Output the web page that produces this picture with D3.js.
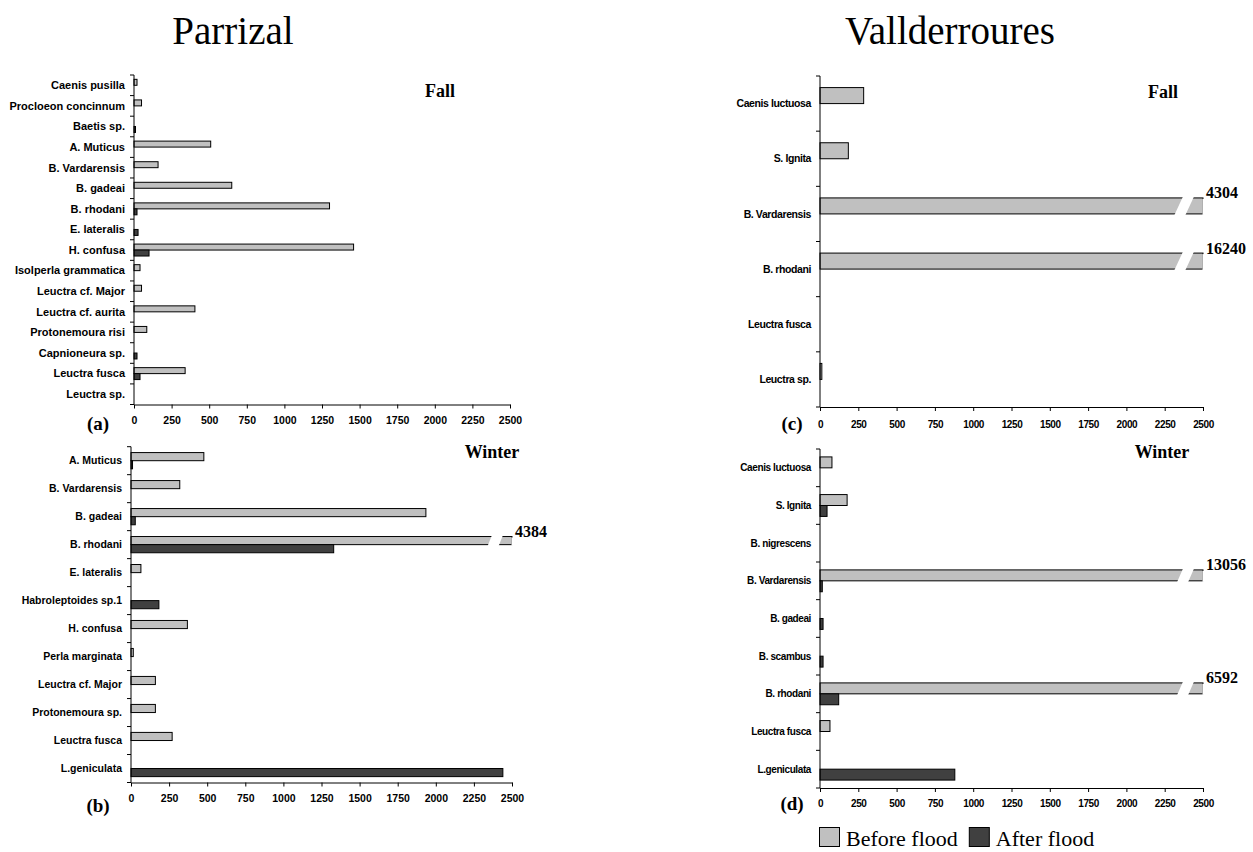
<!DOCTYPE html>
<html><head><meta charset="utf-8">
<script src="https://cdn.jsdelivr.net/npm/d3@7"></script>
<style>body{margin:0;background:#fff} svg{display:block}</style>
</head><body><svg id="c" width="1253" height="852"></svg>
<script>
// ---- data ----
const xTicks = [0, 250, 500, 750, 1000, 1250, 1500, 1750, 2000, 2250, 2500];
const seriesNames = ["Before flood", "After flood"];
const siteTitles = ["Parrizal", "Vallderroures"];
const seasonNames = ["Fall", "Winter"];
const panelLetters = ["(a)", "(b)", "(c)", "(d)"];

const aCategories = ["Caenis pusilla", "Procloeon concinnum", "Baetis sp.", "A. Muticus", "B. Vardarensis", "B. gadeai", "B. rhodani", "E. lateralis", "H. confusa", "Isolperla grammatica", "Leuctra cf. Major", "Leuctra cf. aurita", "Protonemoura risi", "Capnioneura sp.", "Leuctra fusca", "Leuctra sp."];
const aBefore = [20, 50, 0, 510, 160, 650, 1300, 0, 1460, 40, 50, 405, 85, 0, 340, 0];
const aAfter  = [0, 0, 10, 0, 0, 0, 20, 27, 100, 0, 0, 0, 0, 20, 40, 0];

const bCategories = ["A. Muticus", "B. Vardarensis", "B. gadeai", "B. rhodani", "E. lateralis", "Habroleptoides sp.1", "H. confusa", "Perla marginata", "Leuctra cf. Major", "Protonemoura sp.", "Leuctra fusca", "L.geniculata"];
const bBefore = [478, 320, 1935, 4384, 65, 0, 370, 15, 160, 160, 270, 0];
const bAfter  = [10, 0, 28, 1330, 0, 183, 0, 0, 0, 0, 0, 2440];

const cCategories = ["Caenis luctuosa", "S. Ignita", "B. Vardarensis", "B. rhodani", "Leuctra fusca", "Leuctra sp."];
const cBefore = [285, 185, 4304, 16240, 0, 12];
const cAfter  = [0, 0, 0, 0, 0, 0];

const dCategories = ["Caenis luctuosa", "S. Ignita", "B. nigrescens", "B. Vardarensis", "B. gadeai", "B. scambus", "B. rhodani", "Leuctra fusca", "L.geniculata"];
const dBefore = [78, 177, 0, 13056, 0, 0, 6592, 65, 0];
const dAfter  = [0, 46, 0, 15, 20, 20, 122, 0, 880];

// ---- styles / layout ----
const LIGHT = "#c0c0c0", DARK = "#404040";
const SERIF = "'Liberation Serif','Times New Roman',serif";
const SANS = "'Liberation Sans',Arial,sans-serif";
const svg = d3.select("#c");

const panels = [
  {cats: aCategories, before: aBefore, after: aAfter, letter: panelLetters[0], season: seasonNames[0],
   x0: 134, x1: 510, y0: 75, y1: 404.5, seasonX: 440, seasonY: 97, letterX: 98, letterY: 430, labFs: 11, tickFs: 10.5, tickDy: 16},
  {cats: bCategories, before: bBefore, after: bAfter, letter: panelLetters[1], season: seasonNames[1],
   x0: 131, x1: 512, y0: 446.7, y1: 782.5, seasonX: 492, seasonY: 458, letterX: 98, letterY: 812, labFs: 10.5, tickFs: 10.5, tickDy: 16},
  {cats: cCategories, before: cBefore, after: cAfter, letter: panelLetters[2], season: seasonNames[0],
   x0: 820, x1: 1203, y0: 76, y1: 407, seasonX: 1163, seasonY: 98, letterX: 792, letterY: 430, labFs: 10.5, tickFs: 10, tickDy: 17.5, condensed: true},
  {cats: dCategories, before: dBefore, after: dAfter, letter: panelLetters[3], season: seasonNames[1],
   x0: 820, x1: 1203, y0: 449, y1: 788, seasonX: 1162, seasonY: 458, letterX: 792, letterY: 810, labFs: 10, tickFs: 10, tickDy: 15, condensed: true}
];

// titles
svg.append("text").attr("x", 233).attr("y", 44).attr("text-anchor", "middle")
  .style("font-family", SERIF).style("font-size", "39px").text(siteTitles[0]);
svg.append("text").attr("x", 950).attr("y", 44).attr("text-anchor", "middle")
  .style("font-family", SERIF).style("font-size", "39px").text(siteTitles[1]);

function drawPanel(p) {
  const g = svg.append("g");
  const x = d3.scaleLinear().domain([0, 2500]).range([p.x0, p.x1]).clamp(true);
  const y = d3.scaleBand().domain(p.cats).range([p.y0, p.y1]);
  const bh = y.bandwidth() * 0.29;

  const rows = p.cats.map((c, i) => ({c, before: p.before[i], after: p.after[i]}));

  g.selectAll(".bb").data(rows.filter(d => d.before > 0)).join("rect")
    .attr("x", p.x0).attr("y", d => y(d.c) + y.bandwidth() / 2 - bh)
    .attr("width", d => x(d.before) - p.x0).attr("height", bh)
    .attr("fill", LIGHT).attr("stroke", "#000").attr("stroke-width", 1);
  g.selectAll(".ab").data(rows.filter(d => d.after > 0)).join("rect")
    .attr("x", p.x0).attr("y", d => y(d.c) + y.bandwidth() / 2)
    .attr("width", d => x(d.after) - p.x0).attr("height", bh)
    .attr("fill", DARK).attr("stroke", "#000").attr("stroke-width", 1);

  // broken bars (values beyond the axis)
  rows.filter(d => d.before > 2500).forEach(d => {
    const top = y(d.c) + y.bandwidth() / 2 - bh, bot = top + bh;
    const xe = x(2500), s = bh * 0.55;
    g.append("polygon")
      .attr("points", [[xe - 20, top - 1.5], [xe - 9, top - 1.5], [xe - 9 - s, bot + 1.5], [xe - 20 - s, bot + 1.5]].map(q => q.join(",")).join(" "))
      .attr("fill", "#fff");
    g.append("rect").attr("x", xe - 0.5).attr("y", top + 1).attr("width", 3).attr("height", bh).attr("fill", "#fff");
    g.append("text").attr("x", xe + 3).attr("y", top + 0.5)
      .style("font-family", SERIF).style("font-weight", "bold").style("font-size", "16px")
      .text(d3.format("d")(d.before));
  });

  // y axis
  g.append("line").attr("x1", p.x0).attr("x2", p.x0).attr("y1", p.y0).attr("y2", p.y1).attr("stroke", "#000");
  const bounds = p.cats.map(c => y(c)).concat([p.y1]);
  g.selectAll(".yt").data(bounds).join("line")
    .attr("x1", p.x0 - 4).attr("x2", p.x0).attr("y1", d => d).attr("y2", d => d).attr("stroke", "#000");
  g.selectAll(".yl").data(p.cats).join("text")
    .attr("x", p.x0 - 9).attr("y", d => y(d) + y.bandwidth() / 2).attr("dy", "0.35em").attr("text-anchor", "end")
    .style("font-family", SANS).style("font-weight", "bold").style("font-size", p.labFs + "px")
    .style("letter-spacing", p.condensed ? "-0.4px" : "0px")
    .text(d => d);

  // x axis
  const xa = g.append("g").attr("transform", `translate(0,${p.y1})`)
    .call(d3.axisBottom(x).tickValues(xTicks).tickSize(4).tickSizeOuter(0).tickFormat(d3.format("d")));
  xa.select(".domain").attr("stroke", "#000");
  xa.selectAll(".tick line").attr("stroke", "#000");
  xa.selectAll(".tick text").attr("y", p.tickDy).attr("dy", "0.35em").attr("fill", "#000")
    .style("font-family", SANS).style("font-weight", "bold").style("font-size", p.tickFs + "px")
    .style("letter-spacing", p.condensed ? "-0.4px" : "0px");

  g.append("text").attr("x", p.seasonX).attr("y", p.seasonY).attr("text-anchor", "middle")
    .style("font-family", SERIF).style("font-weight", "bold").style("font-size", "18px")
    .text(p.season);
  g.append("text").attr("x", p.letterX).attr("y", p.letterY).attr("text-anchor", "middle")
    .style("font-family", SERIF).style("font-weight", "bold").style("font-size", "19px")
    .text(p.letter);
}
panels.forEach(drawPanel);

// legend
const leg = svg.append("g");
let lx = 819;
seriesNames.forEach((name, i) => {
  leg.append("rect").attr("x", lx + 0.5).attr("y", 827.5).attr("width", 20).attr("height", 19)
    .attr("fill", i === 0 ? LIGHT : DARK).attr("stroke", "#000").attr("stroke-width", 1);
  const t = leg.append("text").attr("x", lx + 27).attr("y", 846)
    .style("font-family", SERIF).style("font-size", "22px").text(name);
  lx = lx + 27 + t.node().getComputedTextLength() + 11;
});
</script></body></html>
